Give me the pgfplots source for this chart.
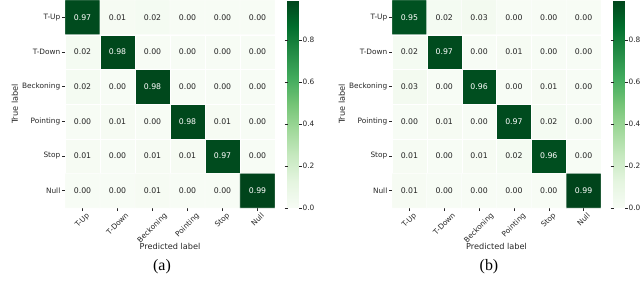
\documentclass[border=0pt]{standalone}
\usepackage{pgfplots}
\pgfplotsset{compat=1.18}
\usepackage{pgfplotstable}
\usepackage{graphicx}
\usepackage{fontspec}
\setmainfont{DejaVu Sans}
\newfontfamily\capfont{Liberation Serif}
\definecolor{txt}{HTML}{262626}

\pgfplotstableread{
x y C
0 0 0.97
1 0 0.01
2 0 0.02
3 0 0.00
4 0 0.00
5 0 0.00
0 1 0.02
1 1 0.98
2 1 0.00
3 1 0.00
4 1 0.00
5 1 0.00
0 2 0.02
1 2 0.00
2 2 0.98
3 2 0.00
4 2 0.00
5 2 0.00
0 3 0.00
1 3 0.01
2 3 0.00
3 3 0.98
4 3 0.01
5 3 0.00
0 4 0.01
1 4 0.00
2 4 0.01
3 4 0.01
4 4 0.97
5 4 0.00
0 5 0.00
1 5 0.00
2 5 0.01
3 5 0.00
4 5 0.00
5 5 0.99
}\cmA

\pgfplotstableread{
x y C
0 0 0.95
1 0 0.02
2 0 0.03
3 0 0.00
4 0 0.00
5 0 0.00
0 1 0.02
1 1 0.97
2 1 0.00
3 1 0.01
4 1 0.00
5 1 0.00
0 2 0.03
1 2 0.00
2 2 0.96
3 2 0.00
4 2 0.01
5 2 0.00
0 3 0.00
1 3 0.01
2 3 0.00
3 3 0.97
4 3 0.02
5 3 0.00
0 4 0.01
1 4 0.00
2 4 0.01
3 4 0.02
4 4 0.96
5 4 0.00
0 5 0.01
1 5 0.00
2 5 0.00
3 5 0.00
4 5 0.00
5 5 0.99
}\cmB

\newcommand{\rl}[1]{\rotatebox{45}{#1}}

\pgfplotsset{
  cmstyle/.style={
    scale only axis,
    height=208bp,
    xmin=-0.5, xmax=5.5, ymin=-0.5, ymax=5.5,
    y dir=reverse,
    axis line style={draw=none},
    xtick={0,...,5}, ytick={0,...,5},
    xticklabels={\rl{T-Up},\rl{T-Down},\rl{Beckoning},\rl{Pointing},\rl{Stop},\rl{Null}},
    yticklabels={T-Up,T-Down,Beckoning,Pointing,Stop,Null},
    xtick pos=bottom, ytick pos=left,
    tick align=outside,
    major tick length=3bp,
    tick style={color=txt, line width=0.5pt},
    ticklabel style={font=\fontsize{7.4}{8}\selectfont, text=txt},
    xticklabel style={anchor=north, inner sep=1bp},
    yticklabel style={inner sep=1.5bp},
    xlabel={Predicted label}, ylabel={True label},
    label style={font=\fontsize{8.2}{9}\selectfont, text=txt},
    xlabel style={yshift=6bp},
    ylabel style={yshift=-1bp},
    colormap={greens}{rgb255=(247,252,245) rgb255=(229,245,224) rgb255=(199,233,192) rgb255=(161,217,155) rgb255=(116,196,118) rgb255=(65,171,93) rgb255=(35,139,69) rgb255=(0,109,44) rgb255=(0,68,27)},
    point meta min=0, point meta max=0.99,
    colorbar,
    colorbar style={
      at={(parent axis.north east)}, anchor=north west, xshift=4bp,
      width=11bp,
      axis line style={draw=none},
      ytick={0,0.2,0.4,0.6,0.8},
      yticklabel style={/pgf/number format/fixed, /pgf/number format/precision=1, /pgf/number format/fixed zerofill, font=\fontsize{7.4}{8}\selectfont, text=txt, inner sep=1bp},
      /pgf/number format/assume math mode=true,
      major tick length=3bp, tick align=outside,
      tick style={color=txt, line width=0.5pt},
      yticklabel pos=right,
    },
  },
  cellnum/.style={
    draw=none, mark=none, nodes near coords,
    point meta=explicit symbolic,
    nodes near coords style={font=\fontsize{7.8}{9}\selectfont, anchor=center, inner sep=0pt, text=#1},
  },
}

\begin{document}
\begin{tikzpicture}
\useasboundingbox (0,0) rectangle (640bp,294bp);

\begin{axis}[cmstyle, width=210bp, at={(65bp,86bp)}, anchor=south west]
\addplot[matrix plot*, mesh/cols=6, point meta=explicit, shader=faceted, faceted color=white, line width=0.3pt] table[x=x, y=y, meta=C] {\cmA};
\addplot[cellnum=txt] table[x=x, y=y, meta=C] {
x y C
1 0 0.01
2 0 0.02
3 0 0.00
4 0 0.00
5 0 0.00
0 1 0.02
2 1 0.00
3 1 0.00
4 1 0.00
5 1 0.00
0 2 0.02
1 2 0.00
3 2 0.00
4 2 0.00
5 2 0.00
0 3 0.00
1 3 0.01
2 3 0.00
4 3 0.01
5 3 0.00
0 4 0.01
1 4 0.00
2 4 0.01
3 4 0.01
5 4 0.00
0 5 0.00
1 5 0.00
2 5 0.01
3 5 0.00
4 5 0.00
};
\addplot[cellnum=white] table[x=x, y=y, meta=C] {
x y C
0 0 0.97
1 1 0.98
2 2 0.98
3 3 0.98
4 4 0.97
5 5 0.99
};
\end{axis}

\begin{axis}[cmstyle, width=209bp, at={(392bp,86bp)}, anchor=south west]
\addplot[matrix plot*, mesh/cols=6, point meta=explicit, shader=faceted, faceted color=white, line width=0.3pt] table[x=x, y=y, meta=C] {\cmB};
\addplot[cellnum=txt] table[x=x, y=y, meta=C] {
x y C
1 0 0.02
2 0 0.03
3 0 0.00
4 0 0.00
5 0 0.00
0 1 0.02
2 1 0.00
3 1 0.01
4 1 0.00
5 1 0.00
0 2 0.03
1 2 0.00
3 2 0.00
4 2 0.01
5 2 0.00
0 3 0.00
1 3 0.01
2 3 0.00
4 3 0.02
5 3 0.00
0 4 0.01
1 4 0.00
2 4 0.01
3 4 0.02
5 4 0.00
0 5 0.01
1 5 0.00
2 5 0.00
3 5 0.00
4 5 0.00
};
\addplot[cellnum=white] table[x=x, y=y, meta=C] {
x y C
0 0 0.95
1 1 0.97
2 2 0.96
3 3 0.97
4 4 0.96
5 5 0.99
};
\end{axis}

\node[font=\capfont\fontsize{16}{18}\selectfont] at (162bp,27bp) {(a)};
\node[font=\capfont\fontsize{16}{18}\selectfont] at (489bp,27bp) {(b)};
\end{tikzpicture}
\end{document}
